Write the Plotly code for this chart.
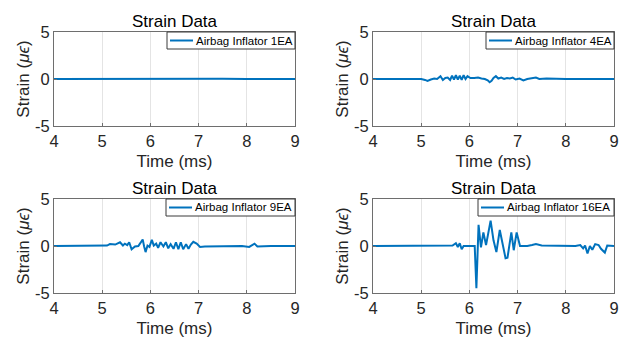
import plotly.graph_objects as go

# ---------------- data ----------------
series_names = ["Airbag Inflator 1EA", "Airbag Inflator 4EA",
                "Airbag Inflator 9EA", "Airbag Inflator 16EA"]
panel_title = "Strain Data"
x_label = "Time (ms)"
y_label = "Strain (<i>μϵ</i>)"
x_ticks = [4, 5, 6, 7, 8, 9]
y_ticks = [-5, 0, 5]
y_tick_labels = ["-5", "0", "5"]

t1 = [4.0, 4.5, 5.0, 5.5, 6.0, 6.5, 7.0, 7.5, 8.0, 8.5, 9.0]
v1 = [0.0, 0.01, -0.01, 0.02, 0.0, 0.02, 0.0, 0.03, -0.01, 0.0, 0.0]

t4 = [4.0, 4.5, 5.0, 5.08, 5.13, 5.2, 5.27, 5.33, 5.40, 5.45, 5.50, 5.55, 5.60, 5.64,
      5.68, 5.72, 5.76, 5.80, 5.84, 5.88, 5.92, 5.96, 6.02, 6.1, 6.18, 6.25, 6.32, 6.38,
      6.42, 6.46, 6.50, 6.55, 6.60, 6.66, 6.72, 6.78, 6.84, 6.90, 6.96, 7.04, 7.12, 7.2,
      7.3, 7.38, 7.45, 7.6, 8.0, 8.5, 9.0]
v4 = [0.0, 0.02, 0.0, -0.1, -0.2, -0.05, 0.05, 0.0, 0.3, -0.1, 0.1, 0.15, -0.1, 0.35,
      -0.05, 0.4, -0.05, 0.35, -0.1, 0.4, 0.0, 0.3, 0.1, 0.1, 0.15, 0.05, 0.0, -0.15,
      -0.35, -0.2, 0.1, 0.3, 0.05, 0.15, 0.0, 0.1, 0.05, 0.15, -0.05, 0.05, -0.15, 0.0,
      0.05, 0.15, 0.0, 0.05, 0.0, 0.02, 0.0]

t9 = [4.0, 4.5, 5.0, 5.1, 5.16, 5.27, 5.37, 5.43, 5.47, 5.52, 5.56, 5.61, 5.68, 5.75,
      5.79, 5.84, 5.87, 5.90, 5.94, 5.98, 6.03, 6.07, 6.12, 6.16, 6.21, 6.27, 6.32, 6.37,
      6.42, 6.48, 6.53, 6.58, 6.63, 6.68, 6.74, 6.79, 6.84, 6.89, 6.96, 7.03, 7.13, 7.5,
      7.9, 8.05, 8.12, 8.16, 8.22, 8.5, 9.0]
v9 = [0.0, 0.02, 0.0, 0.05, 0.2, 0.15, 0.4, 0.05, 0.25, 0.1, 0.4, -0.35, -0.05, 0.0,
      0.3, 0.7, -0.05, -0.65, 0.05, -0.1, 0.65, 0.05, 0.25, -0.2, 0.4, -0.05, 0.4, -0.25,
      0.2, -0.3, 0.4, -0.35, 0.4, -0.35, 0.2, -0.3, 0.15, 0.45, 0.25, -0.1, -0.05, 0.0,
      0.0, -0.1, 0.1, 0.25, -0.05, 0.0, 0.0]

t16 = [4.0, 4.5, 5.0, 5.5, 5.65, 5.72, 5.76, 5.80, 5.84, 5.88, 5.95, 6.05, 6.11, 6.145,
       6.19, 6.24, 6.29, 6.345, 6.44, 6.50, 6.56, 6.63, 6.69, 6.75, 6.79, 6.87, 6.92,
       6.98, 7.05, 7.2, 7.3, 7.38, 7.5, 7.8, 8.2, 8.3, 8.36, 8.40, 8.45, 8.50, 8.55, 8.61,
       8.68, 8.73, 8.81, 8.86, 8.92, 9.0]
v16 = [0.0, 0.02, 0.0, 0.0, 0.05, 0.3, -0.1, 0.3, -0.35, 0.0, 0.0, 0.0, 0.0, -4.5,
       2.25, -0.15, 1.45, 0.1, 2.7, 0.6, -0.65, 1.7, 0.3, -1.3, -1.25, 1.45, -0.45,
       1.45, 0.0, 0.0, 0.1, 0.2, 0.05, 0.0, 0.0, 0.1, -0.25, 0.05, -0.8, 0.0, -0.4, 0.2,
       0.1, -0.3, -0.7, 0.05, 0.0, 0.0]

times = [t1, t4, t9, t16]
values = [v1, v4, v9, v16]

# ---------------- layout / style ----------------
PAGE_W, PAGE_H = 628, 338
OFF = 8                      # default page (body) margin of the browser
W, H = PAGE_W - OFF, PAGE_H - OFF
FONT = "Arial, Liberation Sans, Helvetica, sans-serif"
LINE = "#0072BD"
AX = "#6e6e6e"
TXT = "#262626"

# pixel boxes of each plot area in page pixels (left, right, top, bottom)
boxes = [(54, 295, 32, 126), (373, 614, 32, 126),
         (54, 295, 199, 293), (373, 614, 199, 293)]
legend_widths = [128, 128, 129, 136]   # px
legend_height = 17                     # px


def px_x(p):
    return (p - OFF) / W


def px_y(p):
    return 1 - (p - OFF) / H


fig = go.Figure()
layout = dict(width=W, height=H, margin=dict(l=0, r=0, t=0, b=0),
              paper_bgcolor="white", plot_bgcolor="white",
              font=dict(family=FONT, color=TXT), showlegend=False,
              annotations=[], shapes=[])

for i, (l, r, top, bot) in enumerate(boxes):
    k = "" if i == 0 else str(i + 1)
    xd = [px_x(l), px_x(r)]
    yd = [px_y(bot), px_y(top)]
    fig.add_trace(go.Scatter(x=times[i], y=values[i], mode="lines",
                             name=series_names[i],
                             line=dict(color=LINE, width=2),
                             xaxis="x" + k, yaxis="y" + k))
    layout["xaxis" + k] = dict(domain=xd, anchor="y" + k, range=[4, 9],
                               tickvals=x_ticks, ticks="inside", ticklen=3,
                               tickcolor=AX, showline=True, linecolor=AX, linewidth=1,
                               mirror=True, showgrid=True, gridcolor="#e4e4e4",
                               gridwidth=1, zeroline=False, automargin=False,
                               tickfont=dict(size=16.5, family=FONT, color=TXT),
                               title=dict(text=x_label, standoff=6,
                                          font=dict(size=17, family=FONT, color=TXT)))
    layout["yaxis" + k] = dict(domain=yd, anchor="x" + k, range=[-5, 5],
                               tickvals=y_ticks, ticktext=y_tick_labels,
                               ticks="inside", ticklen=3,
                               tickcolor=AX, showline=True, linecolor=AX, linewidth=1,
                               mirror=True, showgrid=False, zeroline=False,
                               automargin=False,
                               tickfont=dict(size=16.5, family=FONT, color=TXT),
                               title=dict(text=y_label, standoff=1,
                                          font=dict(size=17, family=FONT, color=TXT)))
    # panel title
    layout["annotations"].append(dict(text=panel_title, x=(xd[0] + xd[1]) / 2,
                                      y=yd[1], xref="paper", yref="paper",
                                      xanchor="center", yanchor="bottom", yshift=-1,
                                      showarrow=False,
                                      font=dict(size=17, family=FONT, color="#000000")))
    # legend box (top-right corner of each panel)
    lw = legend_widths[i]
    lx0, lx1 = r - lw, r
    ly0, ly1 = top, top + legend_height
    layout["shapes"].append(dict(type="rect", xref="paper", yref="paper",
                                 x0=px_x(lx0), x1=px_x(lx1), y0=px_y(ly1), y1=px_y(ly0),
                                 fillcolor="white", line=dict(color="#3a3a3a", width=1),
                                 layer="above"))
    ymid = (ly0 + ly1) / 2
    layout["shapes"].append(dict(type="line", xref="paper", yref="paper",
                                 x0=px_x(lx0 + 3), x1=px_x(lx0 + 26),
                                 y0=px_y(ymid), y1=px_y(ymid),
                                 line=dict(color=LINE, width=2), layer="above"))
    layout["annotations"].append(dict(text=series_names[i], x=px_x(lx0 + 27),
                                      y=px_y(ymid), xref="paper", yref="paper",
                                      xanchor="left", yanchor="middle",
                                      showarrow=False,
                                      font=dict(size=11.5, family=FONT, color="#000000")))

fig.update_layout(**layout)
fig.write_html("out.html")
